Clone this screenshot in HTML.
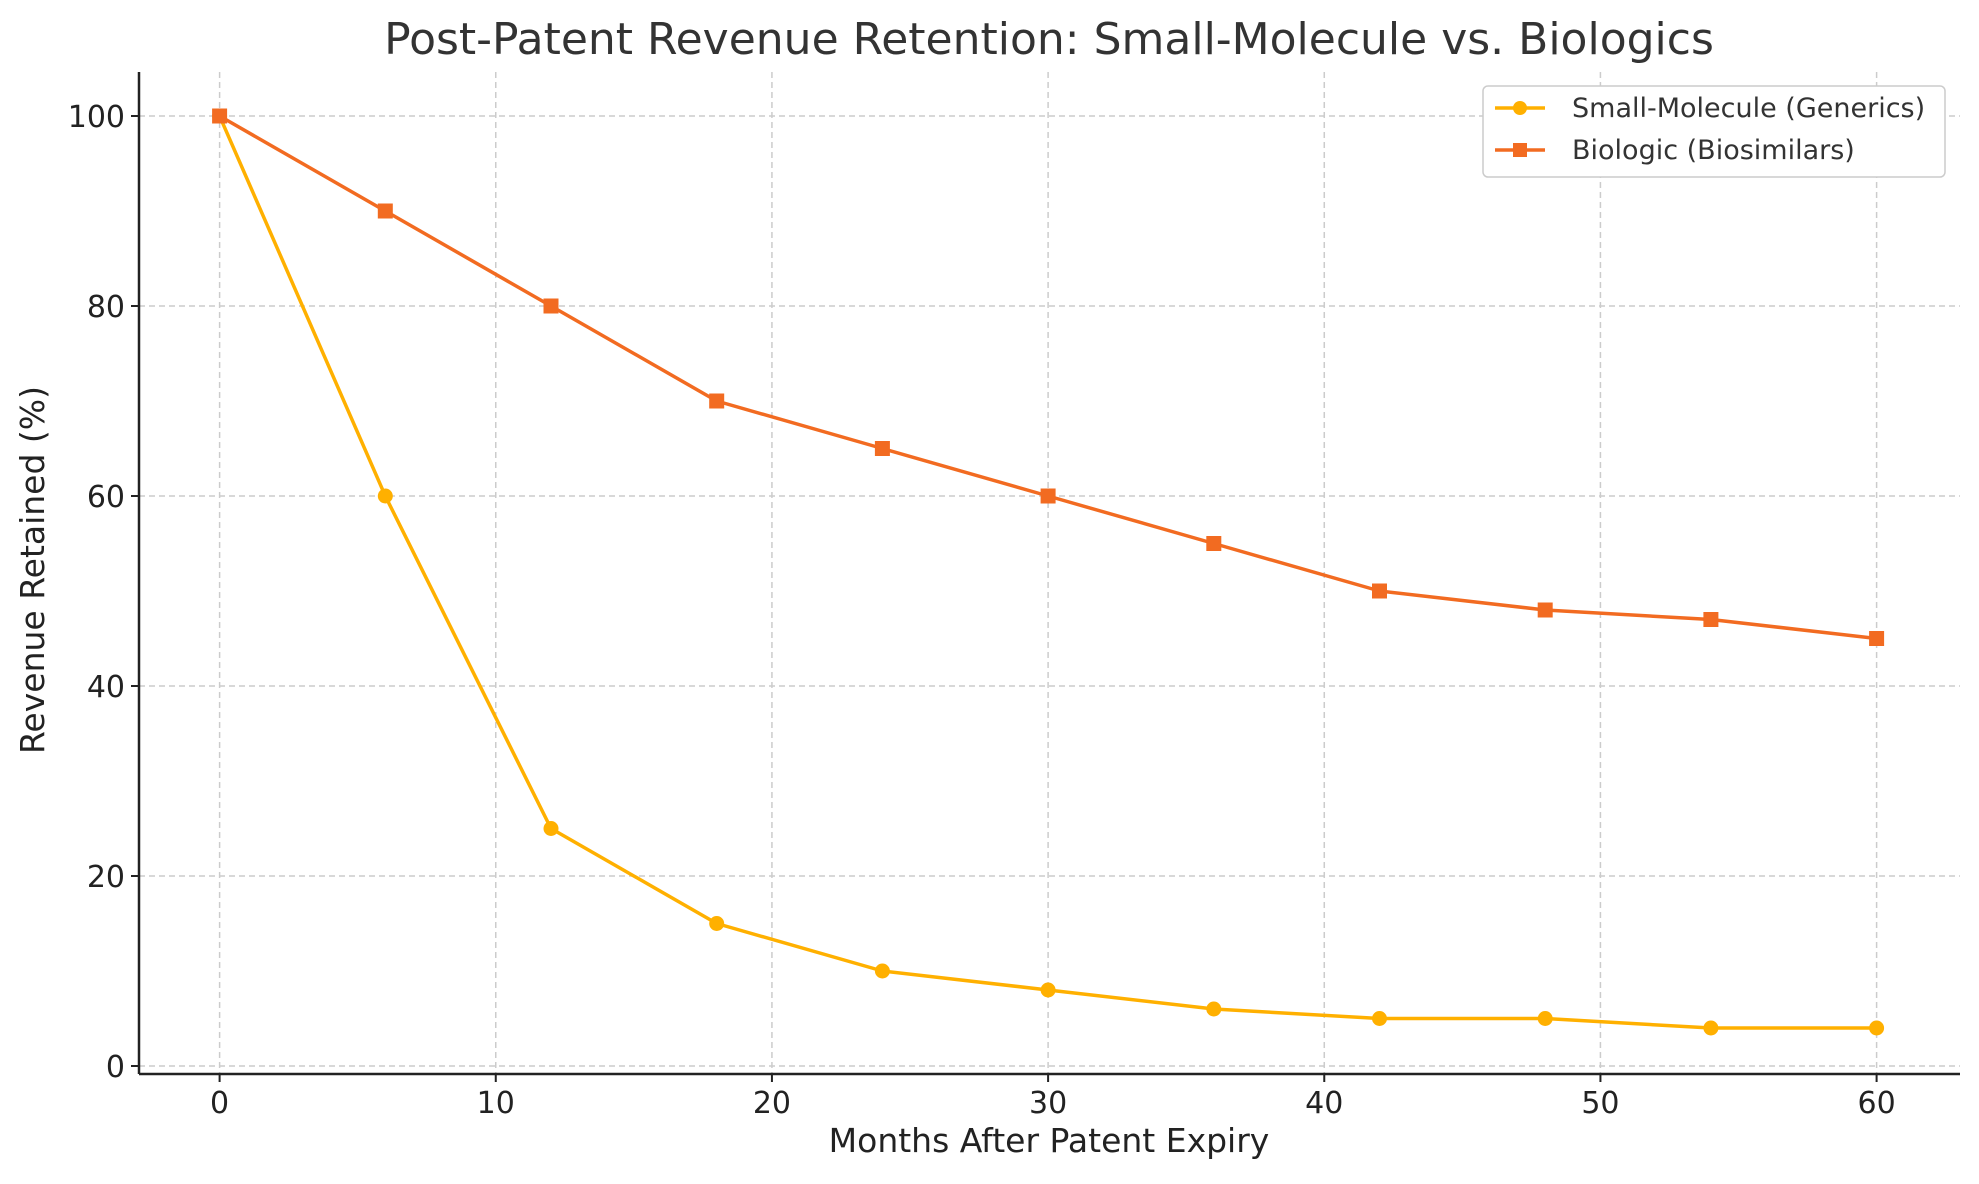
<!DOCTYPE html>
<html><head><meta charset="utf-8"><style>
body{margin:0;background:#fff;font-family:"DejaVu Sans","Liberation Sans",sans-serif}
</style></head><body>
<svg id="chart" width="1979" height="1180" viewBox="0 0 1979 1180" font-family="DejaVu Sans, Liberation Sans, sans-serif">
<rect width="1979" height="1180" fill="#fff"/>
<text x="1049" y="54" text-anchor="middle" font-size="44" fill="#333">Post-Patent Revenue Retention: Small-Molecule vs. Biologics</text>
<g id="grid"></g><g id="axes"></g><g id="series"></g>
<text x="1049" y="1152" text-anchor="middle" font-size="33" fill="#222">Months After Patent Expiry</text>
<text transform="translate(44,570) rotate(-90)" text-anchor="middle" font-size="33" fill="#222">Revenue Retained (%)</text>
<g>
<rect x="1483" y="86" width="462" height="91" rx="5" fill="#fff" stroke="#ccc" stroke-width="1.5"/>
<line x1="1495" y1="108" x2="1545" y2="108" stroke="#FFB000" stroke-width="3.5"/>
<circle cx="1520" cy="108" r="7" fill="#FFB000"/>
<text x="1572" y="117" font-size="27" fill="#333">Small-Molecule (Generics)</text>
<line x1="1495" y1="150" x2="1545" y2="150" stroke="#F26B21" stroke-width="3.5"/>
<rect x="1513" y="143" width="14" height="14" fill="#F26B21"/>
<text x="1572" y="159" font-size="27" fill="#333">Biologic (Biosimilars)</text>
</g>
</svg>
<script>
const months=[0,6,12,18,24,30,36,42,48,54,60];
const smallMolecule=[100,60,25,15,10,8,6,5,5,4,4];
const biologic=[100,90,80,70,65,60,55,50,48,47,45];
const xTicks=[0,10,20,30,40,50,60];
const yTicks=[0,20,40,60,80,100];
const NS="http://www.w3.org/2000/svg";
const L=139,R=1960,T=72,B=1074;
const xs=v=>219.6+v*(1876.6-219.6)/60;
const ys=v=>1066-v*(1066-116)/100;
function mk(tag,attrs,parent){const e=document.createElementNS(NS,tag);for(const k in attrs)e.setAttribute(k,attrs[k]);parent.appendChild(e);return e;}
const grid=document.getElementById('grid'),axes=document.getElementById('axes'),series=document.getElementById('series');
xTicks.forEach(t=>{
 const g=mk('line',{x1:xs(t),x2:xs(t),y1:T,y2:B,stroke:'#ccc','stroke-width':1.5,'stroke-dasharray':'6,4'},grid);
 
 
 mk('line',{x1:xs(t),x2:xs(t),y1:B,y2:B+8,stroke:'#222','stroke-width':2},axes);
 const tx=mk('text',{x:xs(t),y:B+39,'text-anchor':'middle','font-size':30,fill:'#222'},axes);
 tx.textContent=t;
 
 
});
yTicks.forEach(t=>{
 const g=mk('line',{x1:L,x2:R,y1:ys(t),y2:ys(t),stroke:'#ccc','stroke-width':1.5,'stroke-dasharray':'6,4'},grid);
 
 
 mk('line',{x1:L-8,x2:L,y1:ys(t),y2:ys(t),stroke:'#222','stroke-width':2},axes);
 const tx=mk('text',{x:L-14,y:ys(t)+11,'text-anchor':'end','font-size':30,fill:'#222'},axes);
 tx.textContent=t;
 
 
});
const sp1=mk('line',{x1:L,x2:L,y1:T,y2:B,stroke:'#222','stroke-width':2.5},axes);


const sp2=mk('line',{x1:L,x2:R,y1:B,y2:B,stroke:'#222','stroke-width':2.5},axes);


function draw(vals,color,name,square){
 const pts=months.map((m,i)=>xs(m)+','+ys(vals[i])).join(' ');
 const pl=mk('polyline',{points:pts,fill:'none',stroke:color,'stroke-width':3.5,'stroke-linejoin':'round'},series);
 
 
 months.forEach((m,i)=>{
  let e;
  if(square) e=mk('rect',{x:xs(m)-7.5,y:ys(vals[i])-7.5,width:15,height:15,fill:color},series);
  else e=mk('circle',{cx:xs(m),cy:ys(vals[i]),r:7.5,fill:color},series);
  
  
 });
}
draw(smallMolecule,'#FFB000','small-molecule',false);
draw(biologic,'#F26B21','biologic',true);
</script>
</body></html>
